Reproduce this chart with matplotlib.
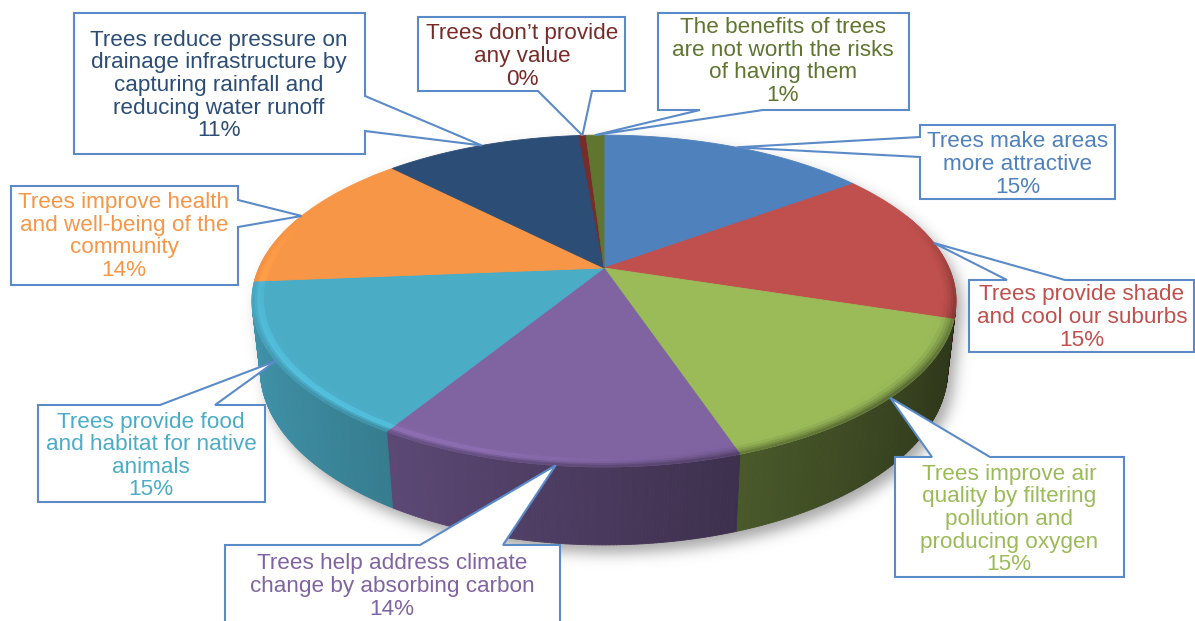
import numpy as np
import matplotlib
matplotlib.use("Agg")
import matplotlib.pyplot as plt
from matplotlib.colors import to_rgb
from matplotlib.path import Path
from matplotlib.patches import Polygon
from matplotlib.collections import PolyCollection

# ---------------- data ----------------
categories = [
    "Trees make areas\nmore attractive",
    "Trees provide shade\nand cool our suburbs",
    "Trees improve air\nquality by filtering\npollution and\nproducing oxygen",
    "Trees help address climate\nchange by absorbing carbon",
    "Trees provide food\nand habitat for native\nanimals",
    "Trees improve health\nand well-being of the\ncommunity",
    "Trees reduce pressure on\ndrainage infrastructure by\ncapturing rainfall and\nreducing water runoff",
    "Trees don\u2019t provide\nany value",
    "The benefits of trees\nare not worth the risks\nof having them",
]
shares = [15, 15, 15, 14, 15, 14, 11, 0.4, 1]
slice_colors = ["#4F81BD", "#C0504D", "#9BBB59", "#8064A2", "#4BACC6",
                "#F79646", "#2C4D75", "#772C2A", "#5F7530"]

# ---------------- callout layout (pixels) ----------------
callout_boxes = [
    (920, 125, 1115, 199),
    (969, 280, 1194, 352),
    (895, 457, 1124, 577),
    (225, 545, 560, 640),
    (38, 405, 265, 502),
    (11, 186, 238, 285),
    (74, 13, 365, 154),
    (418, 17, 625, 91),
    (658, 13, 909, 110),
]
pointer_sides = ["left", "top", "top", "top", "top", "right", "right", "bottom", "bottom"]
pointer_spans = [(137, 157), (1007, 1065), (932, 990), (420, 503), (160, 215),
                 (200, 227), (96, 131), (538, 592), (700, 763)]
text_centres = [(1018, 164.5), (1082, 317.5), (1009, 519.5), (392, 586.5), (151, 456),
                (124, 236.5), (219, 85.5), (522, 56.5), (783, 61.5)]

W, H = 1195, 621

# ---------------- perspective camera for the 3-D pie ----------------
PHI = np.radians(27.5)      # elevation of the viewer
DIST = 4.46                 # viewer distance (pie radius = 1)
FOCAL = 1539.0
CX, CY = 604.0, 268.0       # screen position of the pie centre
THICK = 0.2253              # height of the pie


def project(theta, r=1.0, z=0.0):
    X = r * np.sin(theta)
    Y = r * np.cos(theta)
    den = DIST + Y * np.cos(PHI) - z * np.sin(PHI)
    return (CX + FOCAL * X / den,
            CY - FOCAL * (Y * np.sin(PHI) + z * np.cos(PHI)) / den)


def side_factor(theta):
    return 0.57 - 0.29 * np.sin(theta)


total = float(sum(shares))
fracs = np.array(shares) / total
bounds = np.concatenate([[0.0], np.cumsum(fracs)]) * 2 * np.pi

k = 1.0 / (DIST * np.cos(PHI))
vis_lo = np.arccos(-k)
vis_hi = 2 * np.pi - vis_lo

fig = plt.figure(figsize=(W / 100, H / 100), dpi=100)
ax = fig.add_axes([0, 0, 1, 1])
ax.set_xlim(0, W)
ax.set_ylim(H, 0)
ax.axis("off")

# ---------------- soft drop shadow ----------------
t_back = np.linspace(vis_hi, 2 * np.pi + vis_lo, 200)
t_front = np.linspace(vis_lo, vis_hi, 200)
bx, by = project(t_back, 1.0, 0.0)
fx, fy = project(t_front, 1.0, -THICK)
sil = np.column_stack([np.concatenate([bx, fx]), np.concatenate([by, fy])])
sil_shift = sil + np.array([6.0, 8.0])
gx, gy = np.meshgrid(np.arange(W) + 0.5, np.arange(H) + 0.5)
mask = Path(sil_shift).contains_points(np.column_stack([gx.ravel(), gy.ravel()]))
mask = mask.reshape(H, W).astype(float)


def blur(img, sigma):
    rad = int(3 * sigma)
    kern = np.exp(-0.5 * (np.arange(-rad, rad + 1) / sigma) ** 2)
    kern /= kern.sum()
    img = np.apply_along_axis(lambda m: np.convolve(m, kern, mode="same"), 0, img)
    img = np.apply_along_axis(lambda m: np.convolve(m, kern, mode="same"), 1, img)
    return img


soft = blur(mask, 7.0)
shadow = np.zeros((H, W, 4))
shadow[..., :3] = 0.42
shadow[..., 3] = soft * 0.6
ax.imshow(shadow, extent=(0, W, H, 0), zorder=1, interpolation="bilinear", aspect="auto")

# ---------------- side wall ----------------
side_polys, side_cols = [], []
step = np.radians(0.5)
for i in range(len(shares)):
    a0, a1 = max(bounds[i], vis_lo), min(bounds[i + 1], vis_hi)
    if a1 <= a0:
        continue
    n = max(2, int(np.ceil((a1 - a0) / step)) + 1)
    ts = np.linspace(a0, a1, n)
    base = np.array(to_rgb(slice_colors[i]))
    for t0, t1 in zip(ts[:-1], ts[1:]):
        x0, y0 = project(t0, 1, 0)
        x1, y1 = project(t1, 1, 0)
        x2, y2 = project(t1, 1, -THICK)
        x3, y3 = project(t0, 1, -THICK)
        side_polys.append([(x0, y0), (x1, y1), (x2, y2), (x3, y3)])
        side_cols.append(np.clip(base * side_factor(0.5 * (t0 + t1)), 0, 1))
ax.add_collection(PolyCollection(side_polys, facecolors=side_cols, edgecolors=side_cols,
                                 linewidths=0.6, zorder=2))

# ---------------- top faces ----------------
for i in range(len(shares)):
    n = max(2, int(np.degrees(bounds[i + 1] - bounds[i]) * 2) + 2)
    ts = np.linspace(bounds[i], bounds[i + 1], n)
    ex, ey = project(ts, 1, 0)
    pts = np.column_stack([np.concatenate([[CX], ex]), np.concatenate([[CY], ey])])
    ax.add_patch(Polygon(pts, closed=True, facecolor=slice_colors[i],
                         edgecolor=slice_colors[i], linewidth=0.6, zorder=3))

# ---------------- rounded rim (bevel) ----------------
radii = np.array([0.955, 0.968, 0.978, 0.986, 0.993, 1.0])
bev_polys, bev_cols = [], []
for i in range(len(shares)):
    base = np.array(to_rgb(slice_colors[i]))
    n = max(2, int(np.ceil((bounds[i + 1] - bounds[i]) / step)) + 1)
    ts = np.linspace(bounds[i], bounds[i + 1], n)
    for t0, t1 in zip(ts[:-1], ts[1:]):
        tm = 0.5 * (t0 + t1)
        w = np.clip(0.35 - np.cos(tm), 0, 1)
        if w <= 0:
            continue
        side = base * side_factor(tm)
        glow = 0.2 * np.clip((0.3 - np.sin(tm)) / 0.6, 0, 1)
        for r0, r1 in zip(radii[:-1], radii[1:]):
            tt = ((r0 + r1) / 2 - radii[0]) / (radii[-1] - radii[0])
            col = base + (side - base) * (tt ** 2) * w * 0.75
            col = col * (1 + glow * w * np.exp(-((tt - 0.55) / 0.25) ** 2))
            p0 = project(t0, r0, 0)
            p1 = project(t1, r0, 0)
            p2 = project(t1, r1, 0)
            p3 = project(t0, r1, 0)
            bev_polys.append([p0, p1, p2, p3])
            bev_cols.append(np.clip(col, 0, 1))
ax.add_collection(PolyCollection(bev_polys, facecolors=bev_cols, edgecolors=bev_cols,
                                 linewidths=0.5, zorder=4))

# ---------------- callouts ----------------
def callout_vertices(box, side, span, tip):
    x0, y0, x1, y1 = box
    a, b = span
    if side == "top":
        return [(x0, y0), (a, y0), tip, (b, y0), (x1, y0), (x1, y1), (x0, y1)]
    if side == "right":
        return [(x0, y0), (x1, y0), (x1, a), tip, (x1, b), (x1, y1), (x0, y1)]
    if side == "bottom":
        return [(x0, y0), (x1, y0), (x1, y1), (b, y1), tip, (a, y1), (x0, y1)]
    return [(x0, y0), (x1, y0), (x1, y1), (x0, y1), (x0, b), tip, (x0, a)]


mids = 0.5 * (bounds[:-1] + bounds[1:])
for i, label in enumerate(categories):
    tip = project(mids[i], 1.0, 0.0)
    verts = callout_vertices(callout_boxes[i], pointer_sides[i], pointer_spans[i], tip)
    ax.add_patch(Polygon(verts, closed=True, facecolor="white", edgecolor="#5B8AC8",
                         linewidth=1.5, joinstyle="miter", zorder=5))
    pct = int(round(100 * shares[i] / total))
    tx, ty = text_centres[i]
    ax.text(tx, ty, f"{label}\n{pct}%", ha="center", va="center", multialignment="center",
            fontsize=16.2, color=slice_colors[i], family="Liberation Sans",
            linespacing=1.1, zorder=6)

fig.savefig("out.png", dpi=100)
